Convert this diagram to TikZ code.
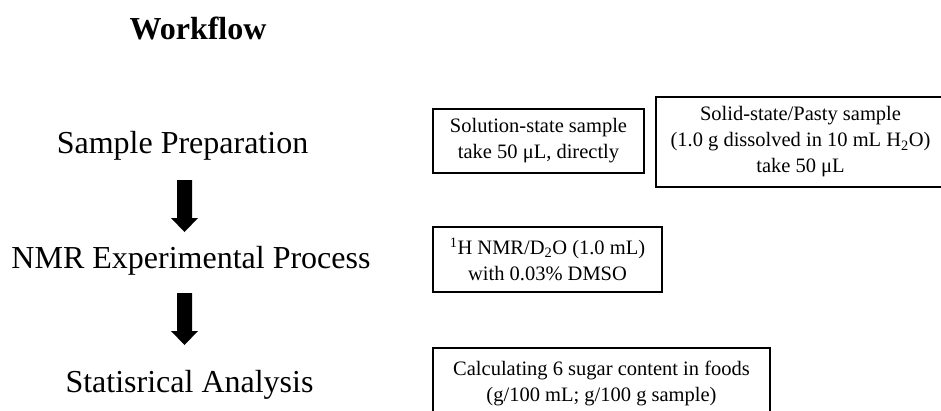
\documentclass[tikz,border=0pt]{standalone}
\usepackage{fontspec}
\setmainfont{Liberation Serif}
\tikzset{
  stage/.style={anchor=base, inner sep=0pt, font=\fontsize{32}{38}\selectfont},
  title/.style={anchor=base, inner sep=0pt, font=\fontsize{32}{38}\selectfont\bfseries},
  infobox/.style={draw=black, line width=2pt, align=center, inner sep=0pt,
    font=\fontsize{20.5}{26}\selectfont},
  blockarrow/.style={fill=black, draw=none}
}
\begin{document}
\begin{tikzpicture}[x=1pt, y=-1pt]
\useasboundingbox (0,0) rectangle (941,410);
\clip (0,0) rectangle (941,410);
\fill[white] (0,0) rectangle (941,410);

\node[title] (wf) at (198,39) {Workflow};
\node[stage] (sp) at (182.5,153) {Sample Preparation};
\node[stage] (nmr) at (191,268) {NMR Experimental Process};
\node[stage] (sa) at (189.5,392) {Statisrical Analysis};

% block arrows
\fill[blockarrow] (177,180) -- (192,180) -- (192,218) -- (198,218) -- (184.5,232) -- (171,218) -- (177,218) -- cycle;
\fill[blockarrow] (177,293) -- (192,293) -- (192,331) -- (198,331) -- (184.5,345) -- (171,331) -- (177,331) -- cycle;

\node[infobox, minimum width=211pt, minimum height=64pt] (b1) at (538.5,141)
  {Solution-state sample\\take 50 μL, directly};
\node[infobox, minimum width=289pt, minimum height=90pt] (b2) at (800.5,142)
  {Solid-state/Pasty sample\\(1.0 g dissolved in 10 mL H\textsubscript{2}O)\\take 50 μL};
\node[infobox, minimum width=229pt, minimum height=65pt] (b3) at (547.5,259.5)
  {\textsuperscript{1}H NMR/D\textsubscript{2}O (1.0 mL)\\with 0.03\% DMSO};
\node[infobox, minimum width=337pt, minimum height=70pt] (b4) at (601.5,383)
  {Calculating 6 sugar content in foods\\(g/100 mL; g/100 g sample)};
\end{tikzpicture}
\end{document}
